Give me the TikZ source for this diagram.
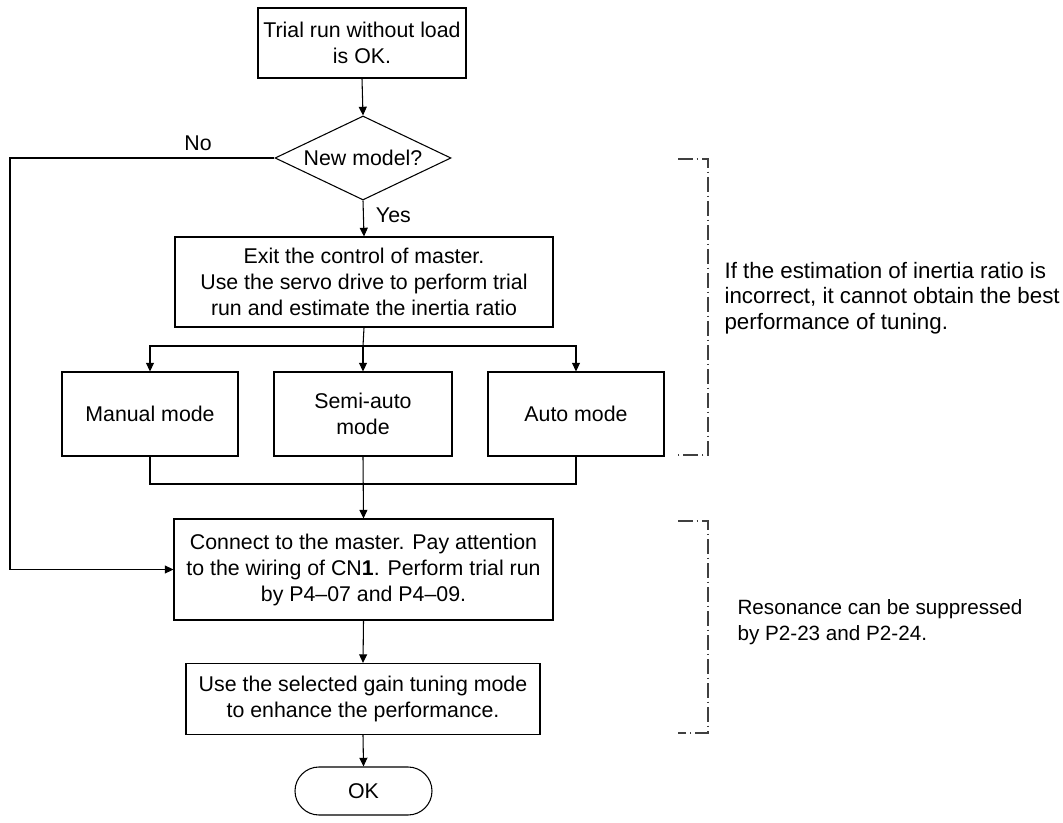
\documentclass[tikz,border=0pt]{standalone}
\usepackage{fontspec}
\setmainfont{Liberation Sans}
\usetikzlibrary{shapes.geometric,shapes.misc,arrows.meta}
\begin{document}
\begin{tikzpicture}[x=0.75pt,y=-0.75pt,
  line width=0.8pt,
  every node/.style={font=\fontsize{16pt}{19.5pt}\selectfont, text=black},
  box/.style={draw, rectangle, align=center, inner sep=0pt},
  arr/.style={-{Triangle[length=6.5pt,width=6pt]}},
  brk/.style={draw=black!75, line width=0.8pt, dash pattern=on 11pt off 3pt on 1pt off 3pt}]
\useasboundingbox (0,0) rectangle (1063,823);
\node[box, minimum width=156pt, minimum height=52.5pt] (top) at (362,43) {Trial run without load\\is OK.};
\node[draw, shape=diamond, aspect=2.1, inner sep=0pt, minimum width=132pt, minimum height=63pt] (dia) at (363,158) {New model?};
\node[box, minimum width=283.5pt, minimum height=67.5pt] (box2) at (364,282) {Exit the control of master.\\Use the servo drive to perform trial\\run and estimate the inertia ratio};
\node[box, minimum width=132pt, minimum height=63pt] (manual) at (150,414) {Manual mode};
\node[box, minimum width=133.5pt, minimum height=63pt] (semi) at (363,414) {Semi-auto\\mode};
\node[box, minimum width=132pt, minimum height=63pt] (auto) at (576,414) {Auto mode};
\node[box, minimum width=284.25pt, minimum height=75.75pt] (box3) at (363.5,569.5) {Connect to the master. Pay attention\\to the wiring of CN\textbf{1}. Perform trial run\\by P4--07 and P4--09.};
\node[box, minimum width=265.5pt, minimum height=53.25pt] (box4) at (363,699) {Use the selected gain tuning mode\\to enhance the performance.};
\node[draw, rounded rectangle, inner sep=0pt, minimum width=102.75pt, minimum height=36pt] (ok) at (363.5,791) {OK};
\node (no) at (198,143) {No};
\node[anchor=west] (yes) at (371,215) {Yes};
\coordinate (lft) at (10,158);
\coordinate (br) at (363,346);
\coordinate (jn) at (363,484);
\draw[arr] (top.south) -- (dia.north);
\draw[arr] (dia.south) -- (box2.north);
\draw[arr] (dia.west) -- (lft) |- (box3.west);
\draw (box2.south) -- (br);
\draw[arr] (br) -| (manual.north);
\draw[arr] (br) -| (auto.north);
\draw[arr] (br) -- (semi.north);
\draw (manual.south) |- (jn);
\draw (auto.south) |- (jn);
\draw[arr] (semi.south) -- (box3.north);
\draw[arr] (box3.south) -- (box4.north);
\draw[arr] (box4.south) -- (ok.north);
\coordinate (b1a) at (678,159);
\coordinate (b1b) at (708,159);
\coordinate (b1c) at (708,455);
\coordinate (b1d) at (678,455);
\draw[brk] (b1a) -- (b1b) -- (b1c) -- (b1d);
\coordinate (b2a) at (678,521);
\coordinate (b2b) at (708,521);
\coordinate (b2c) at (708,733);
\coordinate (b2d) at (678,733);
\draw[brk] (b2a) -- (b2b) -- (b2c) -- (b2d);
\node[anchor=west, align=left, inner sep=0pt, font=\fontsize{16.75pt}{19pt}\selectfont] (note1) at (724,298) {If the estimation of inertia ratio is\\incorrect, it cannot obtain the best\\performance of tuning.};
\node[anchor=west, align=left, inner sep=0pt, font=\fontsize{15.5pt}{19pt}\selectfont] (note2) at (737,622) {Resonance can be suppressed\\by P2-23 and P2-24.};
\end{tikzpicture}
\end{document}
